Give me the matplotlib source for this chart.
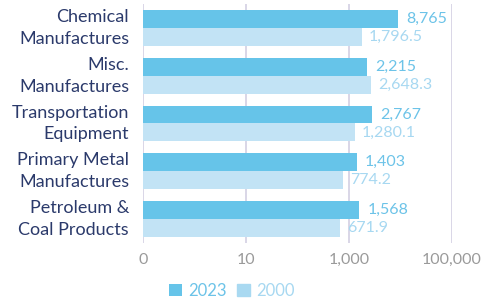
import numpy as np
import matplotlib
matplotlib.use("Agg")
import matplotlib.pyplot as plt
from matplotlib.ticker import FixedLocator, NullLocator

# data
categories = ["Chemical\nManufactures", "Misc.\nManufactures", "Transportation\nEquipment",
              "Primary Metal\nManufactures", "Petroleum &\nCoal Products"]
values_2023 = [8765, 2215, 2767, 1403, 1568]
values_2000 = [1796.5, 2648.3, 1280.1, 774.2, 671.9]
labels_2023 = ["8,765", "2,215", "2,767", "1,403", "1,568"]
labels_2000 = ["1,796.5", "2,648.3", "1,280.1", "774.2", "671.9"]
tick_values = [0.1, 10, 1000, 100000]
tick_labels = ["0", "10", "1,000", "100,000"]

c2023 = "#66c4e9"
c2000 = "#c2e3f5"
c2023_txt = "#6cc3e8"
c2000_txt = "#a7d8f1"
navy = "#2b3a6b"
grid_c = "#d3d0e3"

plt.rcParams['font.family'] = ['Lato', 'DejaVu Sans']

fig = plt.figure(figsize=(4.87, 3.04), dpi=100)
ax = fig.add_axes([143 / 487, 1 - 243 / 304, (452 - 143) / 487, (243 - 4) / 304])

y = np.arange(len(categories))
h = 0.375
base = 0.1
ax.barh(y - h / 2, np.array(values_2023) - base, left=base, height=h, color=c2023, label="2023", zorder=2)
ax.barh(y + h / 2, np.array(values_2000) - base, left=base, height=h, color=c2000, label="2000", zorder=2)

for i in range(len(categories)):
    ax.annotate(labels_2023[i], (values_2023[i], y[i] - h / 2), xytext=(6, 0), textcoords="offset points",
                va="center", ha="left", color=c2023_txt, fontsize=11.5)
    ax.annotate(labels_2000[i], (values_2000[i], y[i] + h / 2), xytext=(5, 0), textcoords="offset points",
                va="center", ha="left", color=c2000_txt, fontsize=11.5)

ax.set_xscale("log")
ax.set_xlim(0.1, 100000)
ax.set_ylim(len(categories) - 0.5, -0.5)
ax.xaxis.set_major_locator(FixedLocator(tick_values))
ax.xaxis.set_minor_locator(NullLocator())
ax.set_xticklabels(tick_labels)
ax.set_yticks(y)
ax.set_yticklabels(categories, color=navy, fontsize=13, linespacing=1.45, va="center")
ax.tick_params(axis="x", length=0, pad=7, labelcolor="#9a9a9a", labelsize=11.5)
ax.tick_params(axis="y", length=0, pad=10)
ax.grid(axis="x", color=grid_c, linewidth=1.2, zorder=0)
ax.set_axisbelow(True)
for s in ax.spines.values():
    s.set_visible(False)

leg = fig.legend(loc="center", bbox_to_anchor=(232 / 487, 1 - 291 / 304), ncol=2, frameon=False,
                 handlelength=0.75, handleheight=0.75, handletextpad=0.4, columnspacing=0.6,
                 fontsize=12, labelcolor=[c2023_txt, c2000_txt])
leg.legend_handles[1].set_color("#a9d9f1")

fig.savefig("out.png", dpi=100)
